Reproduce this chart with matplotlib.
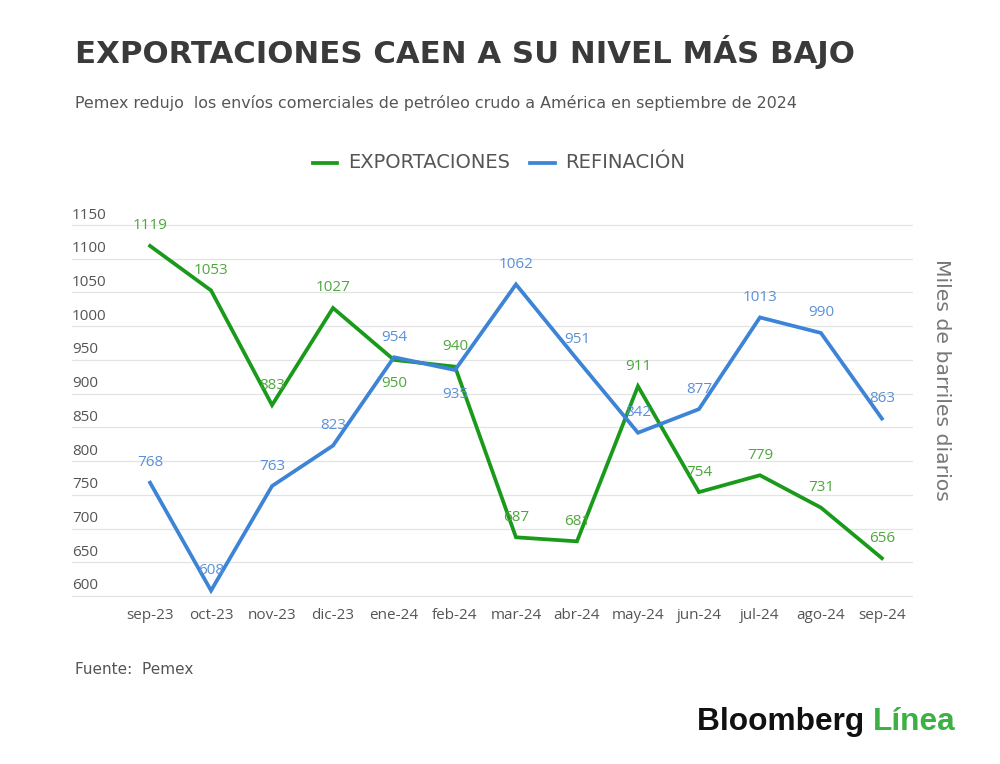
import matplotlib.pyplot as plt
from matplotlib.transforms import blended_transform_factory, offset_copy

meses = ['sep-23', 'oct-23', 'nov-23', 'dic-23', 'ene-24', 'feb-24', 'mar-24',
         'abr-24', 'may-24', 'jun-24', 'jul-24', 'ago-24', 'sep-24']
exportaciones = [1119, 1053, 883, 1027, 950, 940, 687, 681, 911, 754, 779, 731, 656]
refinacion = [768, 608, 763, 823, 954, 935, 1062, 951, 842, 877, 1013, 990, 863]
y_ticks = [600, 650, 700, 750, 800, 850, 900, 950, 1000, 1050, 1100, 1150]

# labels drawn below the point instead of above
export_below = {4}
refin_below = {5}

VERDE = '#1a9a1a'
AZUL = '#3d84d6'
VERDE_TXT = '#4ea63f'
AZUL_TXT = '#5b90d8'
GRIS = '#555555'

plt.rcParams['font.family'] = ['Open Sans', 'DejaVu Sans']

fig = plt.figure(figsize=(10, 7.64), dpi=100)
ax = fig.add_axes([0.072, 0.2111, 0.841, 0.5032])
W, H = 1000, 764

x = list(range(len(meses)))
ax.plot(x, exportaciones, color=VERDE, lw=2.7, solid_joinstyle='miter', zorder=3)
ax.plot(x, refinacion, color=AZUL, lw=2.7, solid_joinstyle='miter', zorder=3)

ax.set_xlim(-1.28, 12.51)
ax.set_ylim(590, 1160)

for v in y_ticks:
    ax.axhline(v, color='#e3e3e3', lw=0.9, zorder=1)

trans = blended_transform_factory(ax.transAxes, ax.transData)
for v in y_ticks:
    ax.text(0, v, str(v), transform=offset_copy(trans, fig, y=10, units='dots'),
            ha='left', va='center', fontsize=11, color=GRIS)

def etiquetas(vals, color, below):
    for i, v in enumerate(vals):
        dy = -24 if i in below else 20
        ax.text(i, v, str(v), transform=offset_copy(ax.transData, fig, y=dy, units='dots'),
                ha='center', va='center', fontsize=11, color=color, zorder=4)

etiquetas(exportaciones, VERDE_TXT, export_below)
etiquetas(refinacion, AZUL_TXT, refin_below)

ax.set_xticks(x)
ax.set_xticklabels(meses, fontsize=11, color=GRIS)
ax.tick_params(axis='x', length=0, pad=4)
ax.set_yticks([])
for s in ax.spines.values():
    s.set_visible(False)

renderer = fig.canvas.get_renderer()

def texto_ancho(px, py, s, ancho, size, vertical=False, **kw):
    # place text and scale its size so it spans the given pixel width
    t = fig.text(px / W, 1 - py / H, s, fontsize=size, **kw)
    bb = t.get_window_extent(renderer)
    medida = bb.height if vertical else bb.width
    t.set_fontsize(size * ancho / medida)
    return t

texto_ancho(75, 52, 'EXPORTACIONES CAEN A SU NIVEL MÁS BAJO', 777, 21,
            family='DejaVu Sans', fontweight='bold', color='#3a3a3a', ha='left', va='center')
texto_ancho(75, 103, 'Pemex redujo  los envíos comerciales de petróleo crudo a América en septiembre de 2024',
            725, 10.5, family='DejaVu Sans', color=GRIS, ha='left', va='center')

# legend
ly = 1 - 163 / H
fig.add_artist(plt.Line2D([0.313, 0.337], [ly, ly], color=VERDE, lw=2.7))
texto_ancho(348, 163, 'EXPORTACIONES', 162, 12, family='DejaVu Sans', color=GRIS,
            ha='left', va='center')
fig.add_artist(plt.Line2D([0.530, 0.555], [ly, ly], color=AZUL, lw=2.7))
texto_ancho(565, 163, 'REFINACIÓN', 120, 12, family='DejaVu Sans', color=GRIS,
            ha='left', va='center')

texto_ancho(942, 380, 'Miles de barriles diarios', 242, 13, vertical=True, rotation=-90,
            family='DejaVu Sans', color='#777777', ha='center', va='center')

fig.text(0.075, 1 - 670 / H, 'Fuente:  Pemex', fontsize=11, family='DejaVu Sans',
         color=GRIS, ha='left', va='center')

# logo: fit whole "Bloomberg Línea" between x=697 and x=955
prueba = fig.text(0, 0, 'Bloomberg Línea', fontsize=20, fontweight='bold',
                  family='Liberation Sans')
escala = 258 / prueba.get_window_extent(renderer).width
prueba.remove()
logo = fig.text(697 / W, 1 - 722 / H, 'Bloomberg ', fontsize=20 * escala, fontweight='bold',
                family='Liberation Sans', color='#111111', ha='left', va='center')
bb = logo.get_window_extent(renderer)
fig.text(bb.x1 / W, 1 - 722 / H, 'Línea', fontsize=20 * escala, fontweight='bold',
         family='Liberation Sans', color='#3cb043', ha='left', va='center')

fig.savefig('out.png', dpi=100, facecolor='white')
